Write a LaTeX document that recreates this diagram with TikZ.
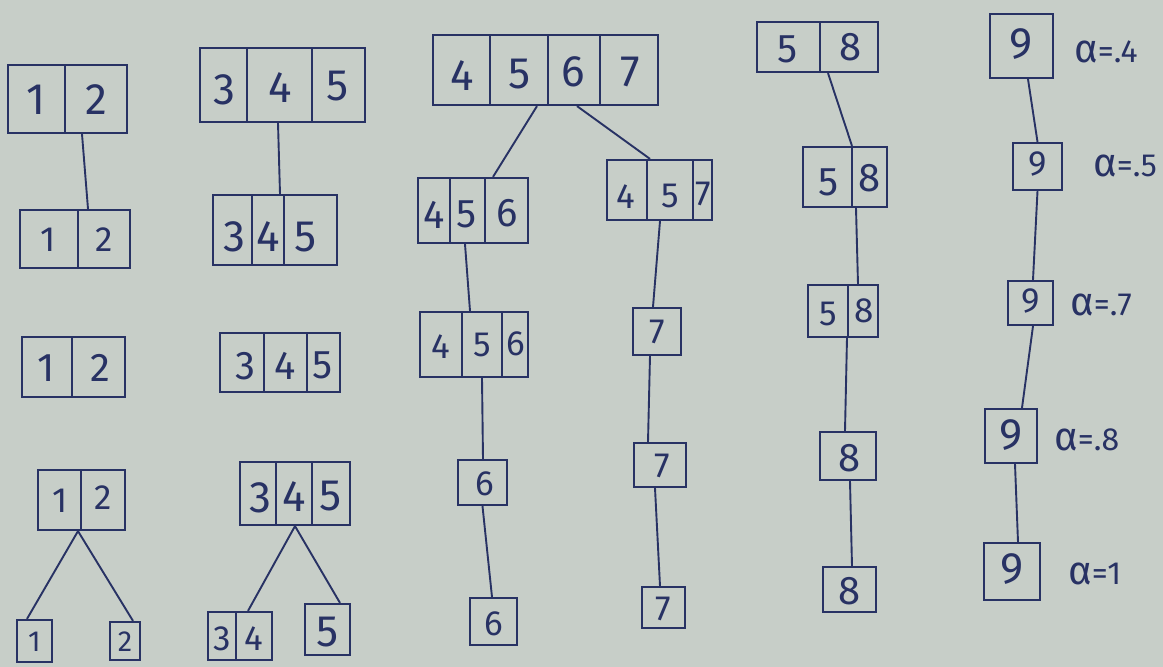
\documentclass[tikz,border=0pt]{standalone}
\usepackage{fontspec}
\setmainfont{Fira Sans}
\definecolor{paper}{RGB}{199,206,200}
\definecolor{ink}{RGB}{40,50,100}
\newcommand{\alphsym}{{\fontsize{40}{40}\selectfont α}}
\begin{document}
\begin{tikzpicture}[x=1pt,y=-1pt,
  box/.style={draw=ink, line width=2.2pt, inner sep=0pt},
  div/.style={draw=ink, line width=2.2pt},
  edge/.style={draw=ink, line width=1.9pt},
  big/.style={text=ink, inner sep=0pt, font=\fontsize{44}{44}\selectfont},
  lrg/.style={text=ink, inner sep=0pt, font=\fontsize{40}{40}\selectfont},
  mid/.style={text=ink, inner sep=0pt, font=\fontsize{35}{35}\selectfont},
  sml/.style={text=ink, inner sep=0pt, font=\fontsize{29}{29}\selectfont},
  alab/.style={text=ink, inner sep=0pt, anchor=west, font=\fontsize{32}{32}\selectfont}]
\fill[paper] (0,0) rectangle (1163,667);
\useasboundingbox (0,0) rectangle (1163,667);

% ---------- column 1 ----------
\node[box, minimum width=119pt, minimum height=68pt] (a1) at (67.5,99) {};
\draw[div] (65,65) -- (65,133);
\node[big] (a1p) at (36,100) {1};
\node[big] (a1q) at (96,100) {2};

\node[box, minimum width=110pt, minimum height=58pt] (a2) at (75,239) {};
\draw[div] (78,210) -- (78,268);
\node[mid] (a2p) at (48,240) {1};
\node[mid] (a2q) at (104,240) {2};

\node[box, minimum width=103pt, minimum height=60pt] (a3) at (73.5,367) {};
\draw[div] (72,337) -- (72,397);
\node[lrg] (a3p) at (46,368) {1};
\node[lrg] (a3q) at (100,368) {2};

\node[box, minimum width=87pt, minimum height=60pt] (a4) at (81.5,500) {};
\draw[div] (81,470) -- (81,530);
\node[mid] (a4p) at (60,501) {1};
\node[mid] (a4q) at (103,498) {2};

\node[box, minimum width=35pt, minimum height=42pt] (l1) at (34.5,641) {};
\node[sml] (l1t) at (34.5,642) {1};
\node[box, minimum width=30pt, minimum height=38pt] (l2) at (125,641) {};
\node[sml] (l2t) at (125,642) {2};

\draw[edge] ([xshift=14.5pt]a1.south) -- ([xshift=13pt]a2.north);
\draw[edge] ([xshift=-3.5pt]a4.south) -- ([xshift=-7.5pt]l1.north);
\draw[edge] ([xshift=-3.5pt]a4.south) -- ([xshift=8pt]l2.north);

% ---------- column 2 ----------
\node[box, minimum width=165pt, minimum height=74pt] (b1) at (282.5,85) {};
\draw[div] (247,48) -- (247,122);
\draw[div] (312,48) -- (312,122);
\node[big] (b1p) at (224,90) {3};
\node[big] (b1q) at (280,88) {4};
\node[big] (b1r) at (338,86) {5};

\node[box, minimum width=124pt, minimum height=70pt] (b2) at (275,230) {};
\draw[div] (252,195) -- (252,265);
\draw[div] (284,195) -- (284,265);
\node[big] (b2p) at (234,237) {3};
\node[big] (b2q) at (268,237) {4};
\node[big] (b2r) at (306,237) {5};

\node[box, minimum width=120pt, minimum height=59pt] (b3) at (280,362.5) {};
\draw[div] (264,333) -- (264,392);
\draw[div] (307,333) -- (307,392);
\node[lrg] (b3p) at (245,366) {3};
\node[lrg] (b3q) at (285,366) {4};
\node[lrg] (b3r) at (323,365) {5};

\node[box, minimum width=110pt, minimum height=63pt] (b4) at (295,493.5) {};
\draw[div] (276,462) -- (276,525);
\draw[div] (312,462) -- (312,525);
\node[big] (b4p) at (260,498) {3};
\node[big] (b4q) at (294,497) {4};
\node[big] (b4r) at (331,496) {5};

\node[box, minimum width=64pt, minimum height=48pt] (l3) at (240,636) {};
\draw[div] (236,612) -- (236,660);
\node[mid] (l3p) at (222,639) {3};
\node[mid] (l3q) at (254,639) {4};
\node[box, minimum width=45pt, minimum height=51pt] (l4) at (327.5,629.5) {};
\node[big] (l4t) at (327.5,632) {5};

\draw[edge] ([xshift=-4.5pt]b1.south) -- ([xshift=5pt]b2.north);
\draw[edge] (b4.south) -- ([xshift=8pt]l3.north);
\draw[edge] (b4.south) -- ([xshift=12.5pt]l4.north);

% ---------- column 3 ----------
\node[box, minimum width=225pt, minimum height=70pt] (c1) at (545.5,70) {};
\draw[div] (490,35) -- (490,105);
\draw[div] (548,35) -- (548,105);
\draw[div] (600,35) -- (600,105);
\node[big] (c1p) at (462,76) {4};
\node[big] (c1q) at (520,74) {5};
\node[big] (c1r) at (573,72) {6};
\node[big] (c1s) at (630,72) {7};

\node[box, minimum width=110pt, minimum height=65pt] (c2) at (473,210.5) {};
\draw[div] (450,178) -- (450,243);
\draw[div] (485,178) -- (485,243);
\node[lrg] (c2p) at (434,215) {4};
\node[lrg] (c2q) at (467,214) {5};
\node[lrg] (c2r) at (507,213) {6};

\node[box, minimum width=105pt, minimum height=60pt] (c3) at (659.5,190) {};
\draw[div] (647,160) -- (647,220);
\draw[div] (693,160) -- (693,220);
\node[mid] (c3p) at (626,197) {4};
\node[mid] (c3q) at (670,196) {5};
\node[mid] (c3r) at (703,194) {7};

\node[box, minimum width=108pt, minimum height=65pt] (c4) at (474,344.5) {};
\draw[div] (462,312) -- (462,377);
\draw[div] (502,312) -- (502,377);
\node[mid] (c4p) at (441,347) {4};
\node[mid] (c4q) at (482,345) {5};
\node[mid] (c4r) at (516,344) {6};

\node[box, minimum width=48pt, minimum height=47pt] (c5) at (657,331.5) {};
\node[mid] (c5t) at (657,332) {7};
\node[box, minimum width=49pt, minimum height=45pt] (c6) at (482.5,482.5) {};
\node[mid] (c6t) at (485,484) {6};
\node[box, minimum width=47pt, minimum height=47pt] (c7) at (493.5,621.5) {};
\node[mid] (c7t) at (493.5,624) {6};
\node[box, minimum width=52pt, minimum height=44pt] (c8) at (660,465) {};
\node[mid] (c8t) at (662,466) {7};
\node[box, minimum width=43pt, minimum height=41pt] (c9) at (663.5,607.5) {};
\node[mid] (c9t) at (663.5,609) {7};

\draw[edge] ([xshift=-8.5pt]c1.south) -- ([xshift=20pt]c2.north);
\draw[edge] ([xshift=31.5pt]c1.south) -- ([xshift=-9.5pt]c3.north);
\draw[edge] ([xshift=-8pt]c2.south) -- ([xshift=-4pt]c4.north);
\draw[edge] ([xshift=0.5pt]c3.south) -- ([xshift=-4pt]c5.north);
\draw[edge] ([xshift=8pt]c4.south) -- ([xshift=0.5pt]c6.north);
\draw[edge] (c6.south) -- ([xshift=-1.5pt]c7.north);
\draw[edge] ([xshift=-7pt]c5.south) -- ([xshift=-12pt]c8.north);
\draw[edge] ([xshift=-5pt]c8.south) -- ([xshift=-3.5pt]c9.north);

% ---------- column 4 ----------
\node[box, minimum width=121pt, minimum height=50pt] (d1) at (817.5,47) {};
\draw[div] (820,22) -- (820,72);
\node[lrg] (d1p) at (788,49) {5};
\node[lrg] (d1q) at (851,47) {8};

\node[box, minimum width=84pt, minimum height=60pt] (d2) at (845,177) {};
\draw[div] (852,147) -- (852,207);
\node[lrg] (d2p) at (829,182) {5};
\node[lrg] (d2q) at (870,178) {8};

\node[box, minimum width=70pt, minimum height=52pt] (d3) at (843,311) {};
\draw[div] (848,285) -- (848,337);
\node[mid] (d3p) at (828,314) {5};
\node[mid] (d3q) at (864,311) {8};

\node[box, minimum width=56pt, minimum height=48pt] (d4) at (848,456) {};
\node[lrg] (d4t) at (850,458) {8};
\node[box, minimum width=53pt, minimum height=45pt] (d5) at (849.5,589.5) {};
\node[lrg] (d5t) at (849.5,591) {8};

\draw[edge] ([xshift=10.5pt]d1.south) -- ([xshift=7pt]d2.north);
\draw[edge] ([xshift=11pt]d2.south) -- ([xshift=15pt]d3.north);
\draw[edge] ([xshift=4pt]d3.south) -- ([xshift=-3pt]d4.north);
\draw[edge] ([xshift=2pt]d4.south) -- ([xshift=2.5pt]d5.north);

% ---------- column 5 ----------
\node[box, minimum width=63pt, minimum height=64pt] (e1) at (1021.5,46) {};
\node[big] (e1t) at (1021.5,44) {9};
\node[box, minimum width=49pt, minimum height=47pt] (e2) at (1037.5,166.5) {};
\node[mid] (e2t) at (1037.5,164) {9};
\node[box, minimum width=45pt, minimum height=44pt] (e3) at (1030.5,303) {};
\node[mid] (e3t) at (1030.5,301) {9};
\node[box, minimum width=52pt, minimum height=54pt] (e4) at (1011,436) {};
\node[big] (e4t) at (1011,435) {9};
\node[box, minimum width=56pt, minimum height=57pt] (e5) at (1012,571.5) {};
\node[big] (e5t) at (1012,569) {9};

\draw[edge] ([xshift=6.5pt]e1.south) -- (e2.north);
\draw[edge] (e2.south) -- ([xshift=2.5pt]e3.north);
\draw[edge] ([xshift=2.5pt]e3.south) -- ([xshift=11pt]e4.north);
\draw[edge] ([xshift=4pt]e4.south) -- ([xshift=6pt]e5.north);

\node[alab] (ea1) at (1074,52) {\alphsym=.4};
\node[alab] (ea2) at (1093,166) {\alphsym=.5};
\node[alab] (ea3) at (1070,305) {\alphsym=.7};
\node[alab] (ea4) at (1054,440) {\alphsym=.8};
\node[alab] (ea5) at (1068,574) {\alphsym=1};
\end{tikzpicture}
\end{document}
